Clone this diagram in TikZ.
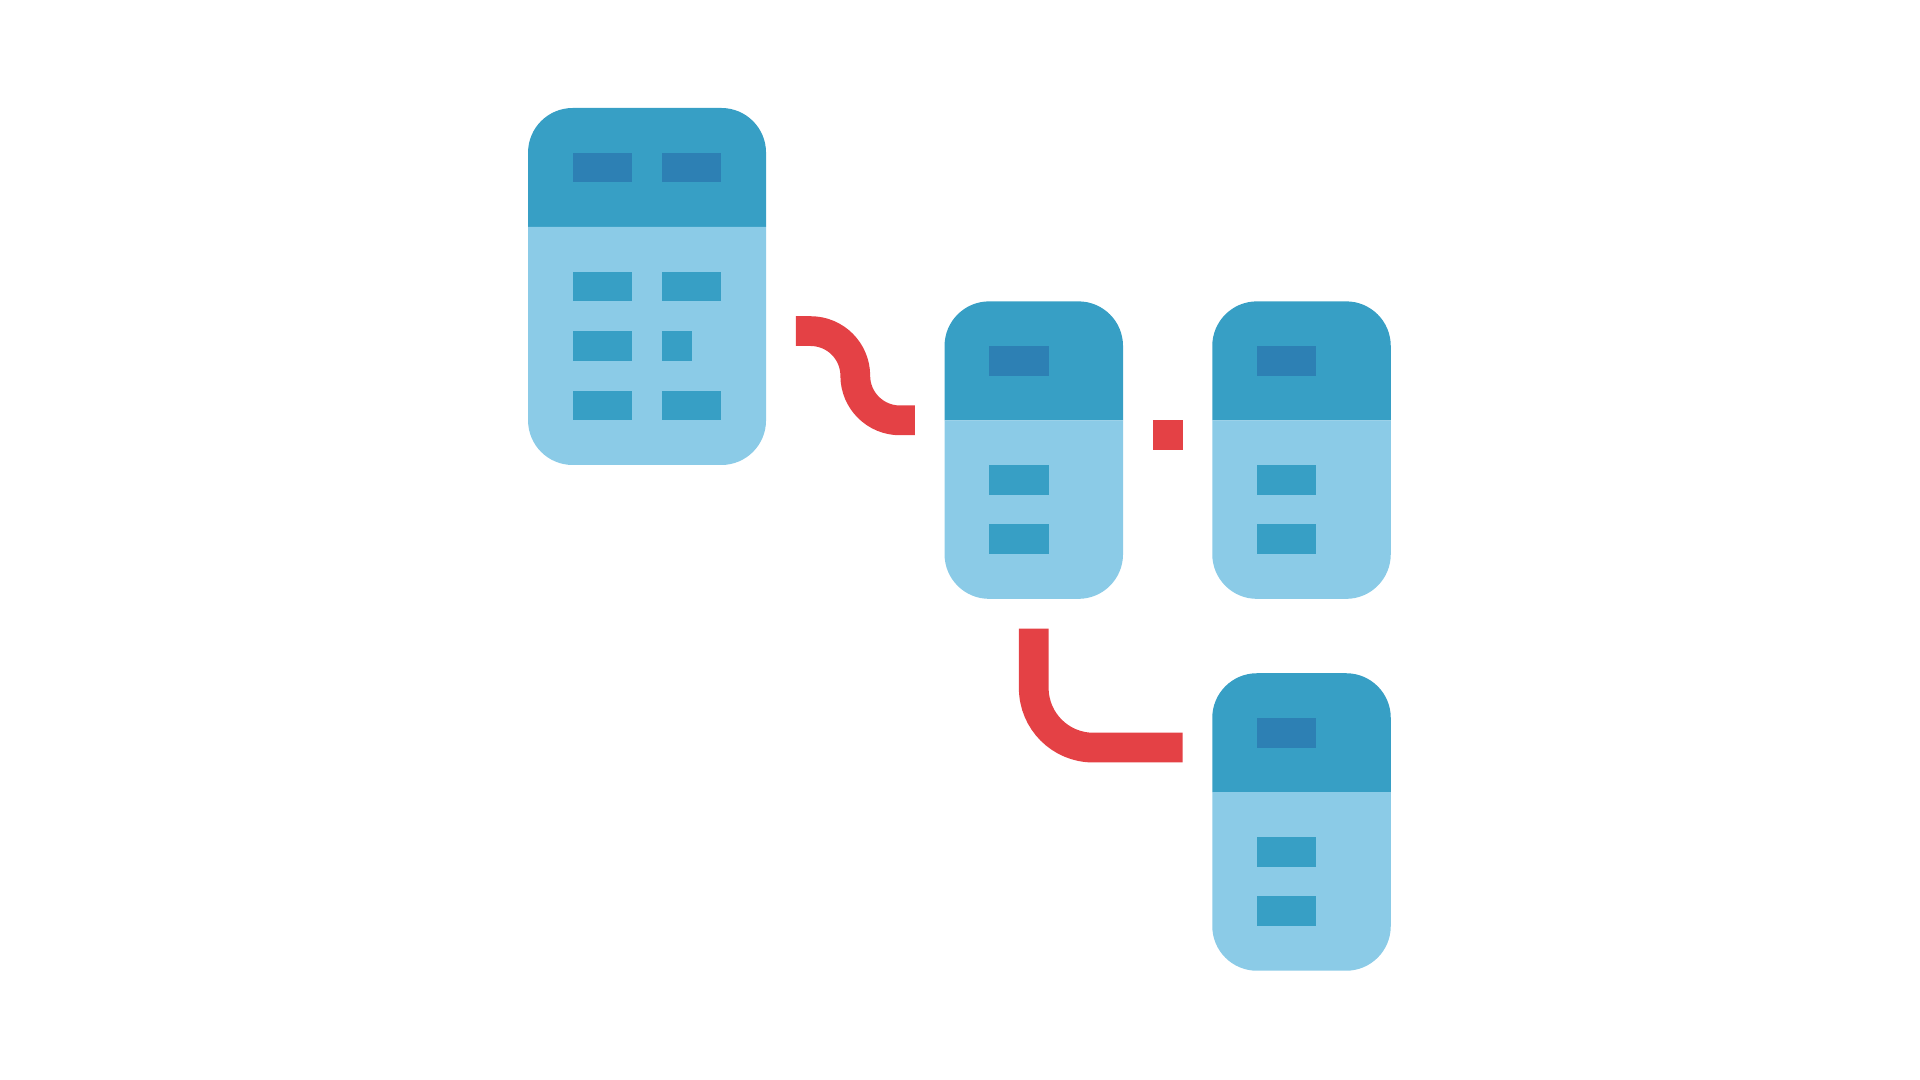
\documentclass[tikz,border=0pt]{standalone}
\usepackage{tikz}
\definecolor{cardtop}{RGB}{55,159,197}
\definecolor{cardbody}{RGB}{139,203,231}
\definecolor{keydark}{RGB}{45,128,180}
\definecolor{linkred}{RGB}{228,65,69}
\tikzset{%
    wire/.style={draw=linkred, line width=0.5cm},
    cardround/.style={rounded corners=0.75cm}
}

\begin{document}
\begin{tikzpicture}[x=0.5cm,y=-0.5cm]
\useasboundingbox (-17.75,-3.63) rectangle (46.79,32.67);

\fill[cardtop,cardround] (0,4) -- (0,0) -- (8,0) -- (8,4);
\fill[cardbody,cardround] (8,4) -- (8,12) -- (0,12) -- (0,4);
\fill[cardtop,cardround] (14,10.5) -- (14,6.5) -- (20,6.5) -- (20,10.5);
\fill[cardbody,cardround] (20,10.5) -- (20,16.5) -- (14,16.5) -- (14,10.5);
\fill[cardtop,cardround] (23,10.5) -- (23,6.5) -- (29,6.5) -- (29,10.5);
\fill[cardbody,cardround] (29,10.5) -- (29,16.5) -- (23,16.5) -- (23,10.5);
\fill[cardtop,cardround] (23,23) -- (23,19) -- (29,19) -- (29,23);
\fill[cardbody,cardround] (29,23) -- (29,29) -- (23,29) -- (23,23);

\fill[keydark] (1.5,1.5) rectangle (3.5,2.5);
\fill[keydark] (4.5,1.5) rectangle (6.5,2.5);
\fill[cardtop] (1.5,5.5) rectangle (3.5,6.5);
\fill[cardtop] (4.5,5.5) rectangle (6.5,6.5);
\fill[cardtop] (1.5,7.5) rectangle (3.5,8.5);
\fill[cardtop] (4.5,7.5) rectangle (5.5,8.5);
\fill[cardtop] (1.5,9.5) rectangle (3.5,10.5);
\fill[cardtop] (4.5,9.5) rectangle (6.5,10.5);

\fill[keydark] (15.5,8) rectangle (17.5,9);
\fill[cardtop] (15.5,12) rectangle (17.5,13);
\fill[cardtop] (15.5,14) rectangle (17.5,15);

\fill[keydark] (24.5,8) rectangle (26.5,9);
\fill[cardtop] (24.5,12) rectangle (26.5,13);
\fill[cardtop] (24.5,14) rectangle (26.5,15);

\fill[keydark] (24.5,20.5) rectangle (26.5,21.5);
\fill[cardtop] (24.5,24.5) rectangle (26.5,25.5);
\fill[cardtop] (24.5,26.5) rectangle (26.5,27.5);

\coordinate (s1) at (9,7.5);
\coordinate (s2) at (13,10.5);
\coordinate (d1) at (21,11);
\coordinate (d2) at (22,11);
\coordinate (l1) at (17,17.5);
\coordinate (l2) at (22,21.5);

\draw[wire,rounded corners=0.75cm] (s1) -- (11,7.5) -- (11,10.5) -- (s2);
\draw[wire] (d1) -- (d2);
\draw[wire,rounded corners=1cm] (l1) |- (l2);
\end{tikzpicture}
\end{document}
